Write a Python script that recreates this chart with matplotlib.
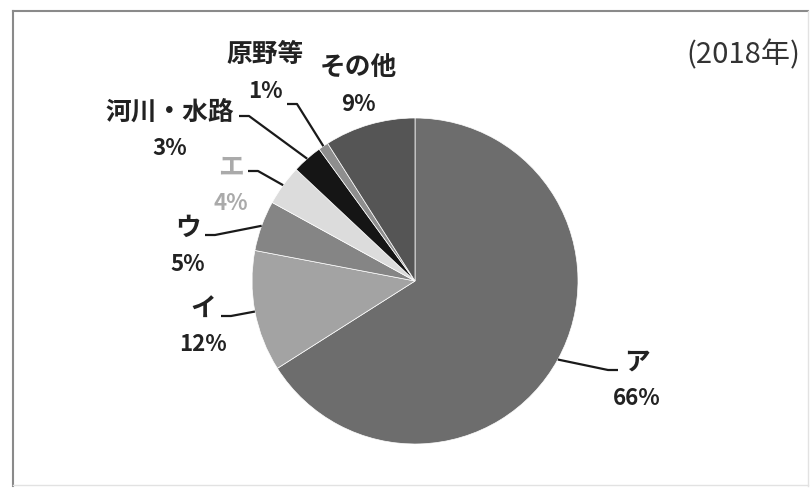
import numpy as np
import matplotlib
matplotlib.use("Agg")
import matplotlib.pyplot as plt

plt.rcParams['font.family'] = ['Noto Sans CJK JP', 'DejaVu Sans']

# データ
labels = ["ア", "イ", "ウ", "エ", "河川・水路", "原野等", "その他"]
values = [66, 12, 5, 4, 3, 1, 9]
colors = ["#6d6d6d", "#a3a3a3", "#858585", "#dcdcdc", "#151515", "#8e8e8e", "#555555"]
year_text = "(2018年)"

# レイアウト (ピクセル座標, 上が 0)
W, H = 811, 489
cx, cy, r = 415, 282, 163
label_pos = [(637, 362), (203, 308), (188, 228), (231, 167), (170, 112), (265, 55), (358, 68)]
line_gap = 37
# 引き出し線の始点 (ラベル側), その他は線なし
leader_start = [(618, 371), (221, 317), (205, 236), (248, 172), (239, 117), (287, 105), None]
leader_dir = [-1, 1, 1, 1, 1, 1, 0]
text_colors = ["#222222"] * 7
text_colors[3] = "#aaaaaa"


def Y(y):
    return H - y


fig = plt.figure(figsize=(W / 100, H / 100), dpi=100)
ax = fig.add_axes([0, 0, 1, 1])

wedges, _ = ax.pie(values, colors=colors, startangle=90, counterclock=False,
                   center=(cx, Y(cy)), radius=r,
                   wedgeprops=dict(edgecolor="white", linewidth=0.5))

ax.set_xlim(0, W)
ax.set_ylim(0, H)
ax.set_aspect("equal")
ax.axis("off")

for i, w in enumerate(wedges):
    name_x, name_y = label_pos[i]
    ax.text(name_x, Y(name_y), labels[i], ha="center", va="center",
            fontsize=18.5, fontweight="bold", color=text_colors[i])
    ax.text(name_x, Y(name_y + line_gap), f"{values[i]}%", ha="center", va="center",
            fontsize=16, fontweight="bold", color=text_colors[i])

    if leader_start[i] is None:
        continue
    mid = np.deg2rad((w.theta1 + w.theta2) / 2)
    ex = cx + r * np.cos(mid)
    ey = Y(cy) + r * np.sin(mid)
    sx, sy = leader_start[i]
    kx = sx + 10 * leader_dir[i]
    ax.plot([sx, kx, ex], [Y(sy), Y(sy), ey], color="#1a1a1a", lw=1.6,
            solid_capstyle="butt")

ax.text(800, Y(55), year_text, ha="right", va="center", fontsize=21,
        color="#333333")

# 枠線
ax.plot([13, 808], [Y(12), Y(12)], color="#8a8a8a", lw=1.5)
ax.plot([13, 13], [Y(12), Y(487)], color="#8a8a8a", lw=1.5)
ax.plot([808, 808], [Y(12), Y(487)], color="#e2e2e2", lw=1.0)
ax.plot([13, 808], [Y(486), Y(486)], color="#e2e2e2", lw=1.0)

fig.savefig("out.png", dpi=100)
